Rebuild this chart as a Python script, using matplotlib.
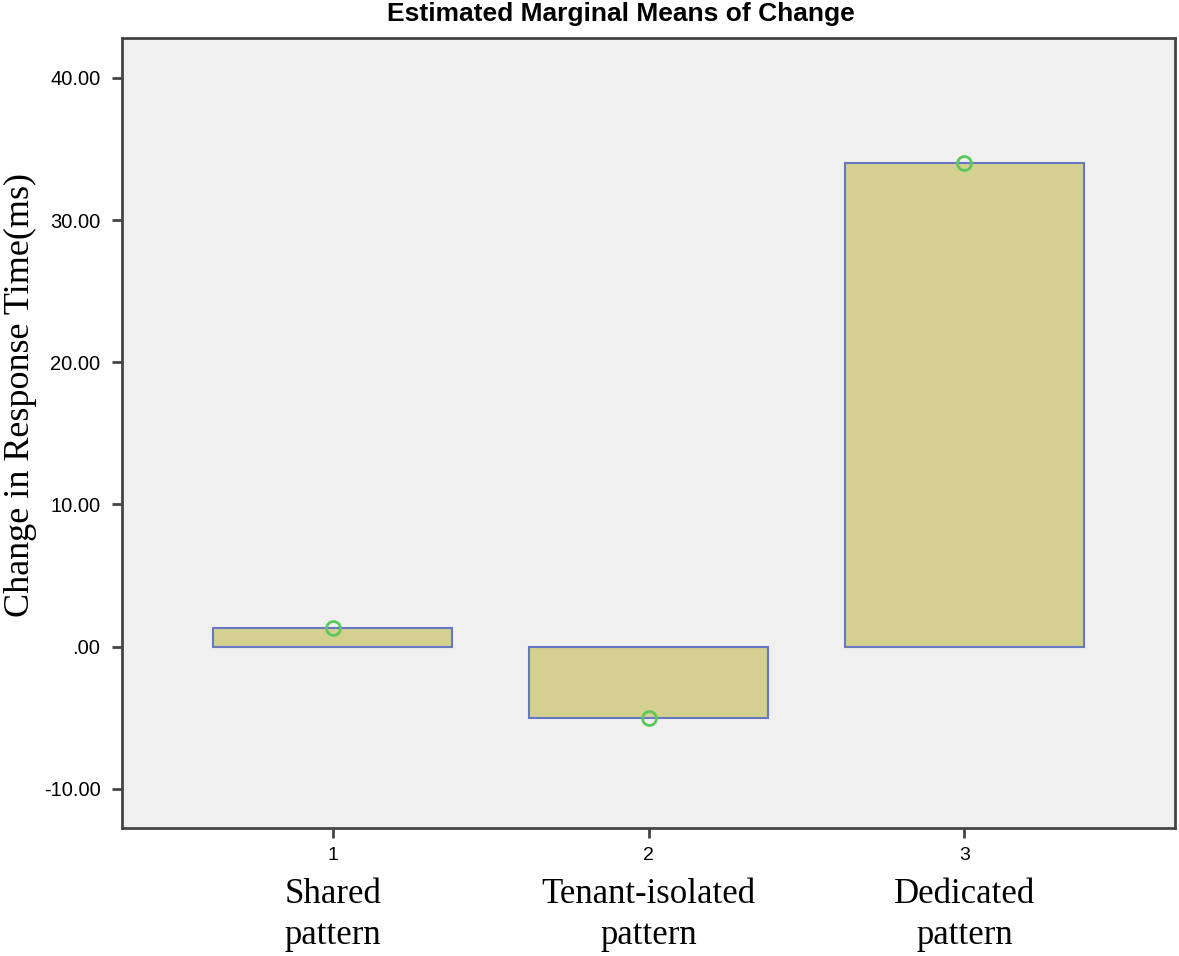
import matplotlib.pyplot as plt

groups = [1, 2, 3]
group_names = ["Shared\npattern", "Tenant-isolated\npattern", "Dedicated\npattern"]
means = [1.3, -5.0, 34.0]
yticks = [-10, 0, 10, 20, 30, 40]
ytick_labels = ["-10.00", ".00", "10.00", "20.00", "30.00", "40.00"]

fig = plt.figure(figsize=(11.79, 9.56), dpi=100)
ax = fig.add_axes([122 / 1179, 1 - 828 / 956, 1053 / 1179, 790 / 956])
ax.set_facecolor("#f0f0f0")

ax.bar(groups, means, width=0.755, color="#d4d08f", edgecolor="#6678c4", linewidth=1.5, zorder=2)
ax.plot(groups, means, "o", markersize=10, markerfacecolor="none",
        markeredgecolor="#5cc85c", markeredgewidth=2, zorder=3)

ax.set_xlim(0.333, 3.667)
ax.set_ylim(-12.75, 42.8)
ax.set_yticks(yticks)
ax.set_yticklabels(ytick_labels, fontfamily="Liberation Sans", fontsize=14.5)
ax.set_xticks(groups)
ax.set_xticklabels([str(g) for g in groups], fontfamily="Liberation Sans", fontsize=14)
ax.tick_params(direction="out", length=7.5, width=2, color="#444444", pad=6)
ax.tick_params(axis="y", pad=8)

for s in ax.spines.values():
    s.set_linewidth(2)
    s.set_color("#444444")

# category names under the numeric ticks
for g, name in zip(groups, group_names):
    ax.annotate(name, xy=(g, 0), xycoords=("data", "axes fraction"),
                xytext=(0, -36), textcoords="offset points",
                ha="center", va="top", fontfamily="Liberation Serif",
                fontsize=25, linespacing=1.3)

fig.text(20 / 1179, 1 - 395 / 956, "Change in Response Time(ms)", rotation=90,
         ha="center", va="center", fontfamily="Liberation Serif", fontsize=26)
fig.text(621 / 1179, 1 - 14 / 956, "Estimated Marginal Means of Change",
         ha="center", va="center", fontfamily="Liberation Sans", fontweight="bold", fontsize=19)

fig.savefig("out.png", dpi=100)
